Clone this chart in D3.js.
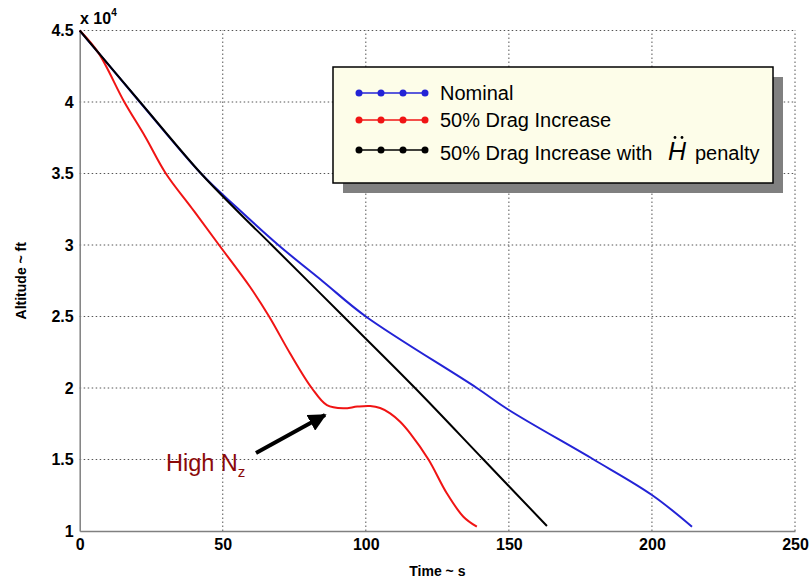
<!DOCTYPE html>
<html>
<head>
<meta charset="utf-8">
<script src="https://cdn.jsdelivr.net/npm/d3@7"></script>
<style>
  html, body { margin: 0; padding: 0; background: #fff; }
  svg { display: block; font-family: Arial, "Liberation Sans", sans-serif; }
</style>
</head>
<body>
<svg id="chart" width="812" height="580"></svg>
<script>
// Descent trajectories: time (s) vs altitude (ft)
const nominalTime = [0, 21, 42.4, 55, 69.4, 85, 100, 138.8, 150, 179.6, 200, 214];
const nominalAlt  = [45000, 40000, 35000, 32600, 30000, 27450, 25000, 20000, 18460, 15000, 12520, 10300];

const dragTime = [0, 6.5, 15.6, 22.9, 30.1, 39.2, 48.7, 59.5, 66.2, 73.5, 81.1, 86.4, 92.2, 97, 101.5, 105, 108.5, 112, 115.5, 121.9, 128.3, 134.1, 138.8];
const dragAlt  = [45000, 43450, 40000, 37570, 35000, 32570, 30000, 27080, 25000, 22430, 20000, 18800, 18580, 18700, 18740, 18600, 18230, 17640, 16830, 15000, 12640, 11000, 10300];

const penaltyTime = [0, 21.1, 42.4, 55, 67.1, 92.2, 117.2, 141.1, 163.3];
const penaltyAlt  = [45000, 40000, 35000, 32400, 30000, 25000, 20000, 15000, 10350];

const xTicks = [0, 50, 100, 150, 200, 250];
const yTicks = [10000, 15000, 20000, 25000, 30000, 35000, 40000, 45000];

const seriesNames = ["Nominal", "50% Drag Increase", "50% Drag Increase with"];
const seriesColors = ["#2323d6", "#f01414", "#000000"];

const svg = d3.select("#chart");
const x = d3.scaleLinear().domain([0, 250]).range([79.7, 795]);
const y = d3.scaleLinear().domain([10000, 45000]).range([531, 30.5]);

// Grid
const grid = svg.append("g").attr("stroke", "#555").attr("stroke-width", 1)
  .attr("stroke-dasharray", "1.5,2.5");
grid.selectAll("line.v").data(xTicks.slice(1)).join("line")
  .attr("x1", d => x(d)).attr("x2", d => x(d))
  .attr("y1", y(10000)).attr("y2", y(45000));
grid.selectAll("line.h").data(yTicks.slice(1)).join("line")
  .attr("x1", x(0)).attr("x2", x(250))
  .attr("y1", d => y(d)).attr("y2", d => y(d));

// Axes
const xAxis = d3.axisBottom(x).tickValues(xTicks).tickSize(0).tickPadding(8).tickFormat(d3.format("d"));
const yAxis = d3.axisLeft(y).tickValues(yTicks).tickSize(0).tickPadding(6).tickFormat(d => d / 1e4);

const gx = svg.append("g").attr("transform", `translate(0,${y(10000)})`).call(xAxis);
const gy = svg.append("g").attr("transform", `translate(${x(0)},0)`).call(yAxis);
[gx, gy].forEach(g => {
  g.select(".domain").attr("stroke", "#808080").attr("stroke-width", 1.5);
  g.selectAll("text").attr("font-size", 16).attr("font-weight", "bold")
    .attr("fill", "#000").attr("font-family", "Arial, 'Liberation Sans', sans-serif");
});

// Axis titles
svg.append("text").attr("x", x(125)).attr("y", 576).attr("text-anchor", "middle")
  .attr("font-size", 14).attr("font-weight", "bold").text("Time ~ s");
svg.append("text").attr("transform", `translate(26,${y(27500)}) rotate(-90)`)
  .attr("text-anchor", "middle").attr("font-size", 14).attr("font-weight", "bold")
  .text("Altitude ~ ft");
const mult = svg.append("text").attr("x", 80).attr("y", 24).attr("font-size", 16).attr("font-weight", "bold");
mult.append("tspan").text("x 10");
mult.append("tspan").attr("dy", -8).attr("font-size", 10).text("4");

// Lines
const line = d3.line().x(d => x(d[0])).y(d => y(d[1])).curve(d3.curveCatmullRom.alpha(0.5));
const series = [
  d3.zip(nominalTime, nominalAlt),
  d3.zip(dragTime, dragAlt),
  d3.zip(penaltyTime, penaltyAlt)
];
svg.append("g").selectAll("path").data(series).join("path")
  .attr("d", line).attr("fill", "none")
  .attr("stroke", (d, i) => seriesColors[i]).attr("stroke-width", 2)
  .attr("stroke-linejoin", "round");

// Annotation
svg.append("defs").append("marker").attr("id", "head")
  .attr("viewBox", "0 0 10 10").attr("refX", 9).attr("refY", 5)
  .attr("markerWidth", 4.5).attr("markerHeight", 4.5).attr("orient", "auto")
  .attr("markerUnits", "strokeWidth")
  .append("path").attr("d", "M0,0 L10,5 L0,10 Z").attr("fill", "#000");
svg.append("line").attr("x1", 256).attr("y1", 453).attr("x2", 325).attr("y2", 415)
  .attr("stroke", "#000").attr("stroke-width", 4).attr("marker-end", "url(#head)");
const ann = svg.append("text").attr("x", 166).attr("y", 471).attr("font-size", 23.5).attr("fill", "#8b0a0a");
ann.append("tspan").text("High N");
ann.append("tspan").attr("dy", 6).attr("font-size", 15).text("z");

// Legend
const lg = svg.append("g");
lg.append("rect").attr("x", 343).attr("y", 77).attr("width", 440).attr("height", 116).attr("fill", "#808080");
lg.append("rect").attr("x", 333).attr("y", 67).attr("width", 440).attr("height", 116)
  .attr("fill", "#fdfde9").attr("stroke", "#000").attr("stroke-width", 1.5);
const rowY = [93, 120, 150];
const textY = [99.5, 127, 160];
const markX = [359, 381, 403, 425];
seriesNames.forEach((name, i) => {
  lg.append("line").attr("x1", markX[0]).attr("x2", markX[3]).attr("y1", rowY[i]).attr("y2", rowY[i])
    .attr("stroke", seriesColors[i]).attr("stroke-width", 1.5);
  lg.selectAll(null).data(markX).join("circle").attr("cx", d => d).attr("cy", rowY[i]).attr("r", 3.5)
    .attr("fill", seriesColors[i]);
  lg.append("text").attr("x", 440).attr("y", textY[i]).attr("font-size", 20).text(name);
});
// H with double-dot accent
lg.append("text").attr("x", 668).attr("y", 160).attr("font-size", 25).attr("font-style", "italic").text("H");
lg.selectAll(null).data([675, 682]).join("circle").attr("cx", d => d).attr("cy", 137.5).attr("r", 1.4).attr("fill", "#000");
lg.append("text").attr("x", 695).attr("y", 160).attr("font-size", 20).text("penalty");
</script>
</body>
</html>
